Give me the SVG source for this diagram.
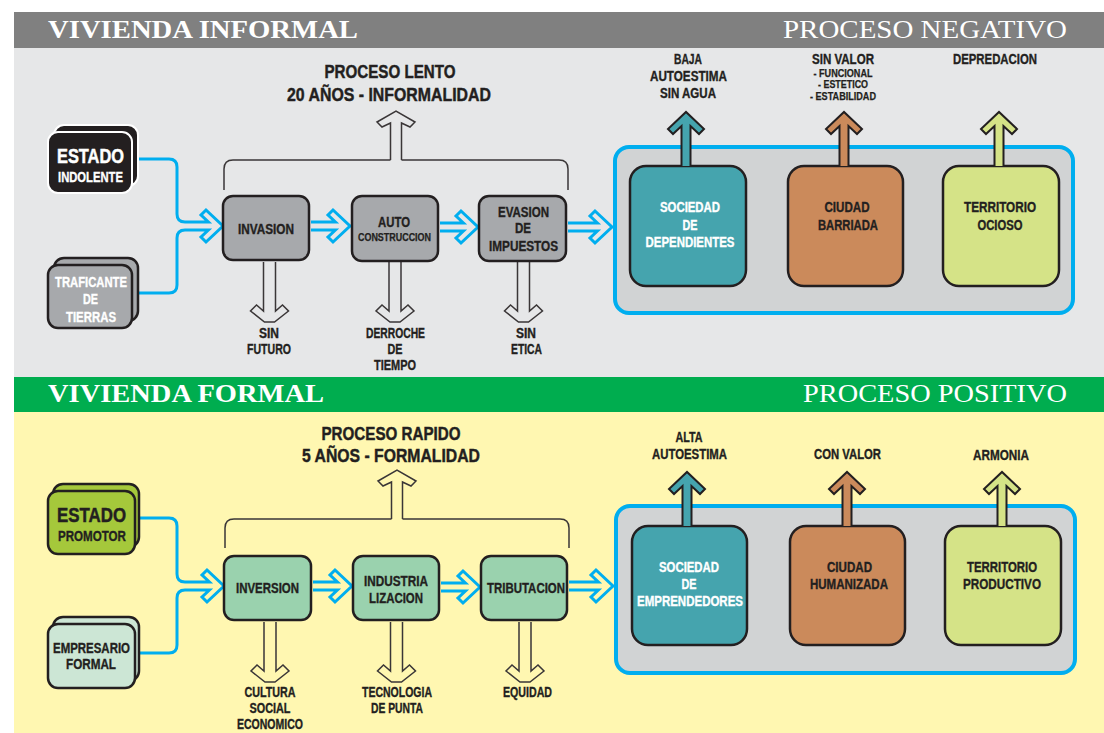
<svg xmlns="http://www.w3.org/2000/svg" width="1104" height="733" viewBox="0 0 1104 733">
  <style>
    .lbl { font-family: "Liberation Sans", Arial, sans-serif; font-weight: bold; fill: #231f20; stroke: #231f20; stroke-width: 0.35; text-anchor: middle; font-size: 14px; }
    .w { fill: #ffffff; stroke: #ffffff; }
    .sm { font-size: 10px; stroke-width: 0.25; }
    .big { font-size: 21px; stroke-width: 0.5; }
    .title { font-size: 19px; stroke-width: 0.45; }
    .head { font-family: "Liberation Serif", "Times New Roman", serif; font-size: 26px; fill: #ffffff; }
    .box { stroke: #231f20; stroke-width: 2.5; }
    .flow { fill: none; stroke: #00aeef; stroke-width: 3; stroke-linejoin: miter; }
    .out { stroke: #3a3637; stroke-width: 1.5; stroke-linejoin: miter; }
    .bracket { fill: none; stroke: #3a3637; stroke-width: 1.5; }
    .grp { fill: #d1d3d4; stroke: #00aeef; stroke-width: 4; }
    .up { stroke: #231f20; stroke-width: 2; stroke-linejoin: miter; }
  </style>

  <!-- page background -->
  <rect x="0" y="0" width="1104" height="733" fill="#ffffff"/>

  <!-- informal band -->
  <rect x="14" y="48" width="1090" height="329" fill="#e6e7e8"/>
  <rect x="14" y="12" width="1090" height="36" fill="#808080"/>
  <text class="head" x="48" y="38" font-weight="bold" textLength="310" lengthAdjust="spacingAndGlyphs">VIVIENDA INFORMAL</text>
  <text class="head" x="1067" y="38" text-anchor="end" textLength="284" lengthAdjust="spacingAndGlyphs">PROCESO NEGATIVO</text>

  <!-- formal band -->
  <rect x="14" y="412" width="1090" height="321" fill="#fff7b1"/>
  <rect x="14" y="377" width="1090" height="35" fill="#00ad4f"/>
  <text class="head" x="48" y="402" font-weight="bold" textLength="276" lengthAdjust="spacingAndGlyphs">VIVIENDA FORMAL</text>
  <text class="head" x="1067" y="402" text-anchor="end" textLength="264" lengthAdjust="spacingAndGlyphs">PROCESO POSITIVO</text>

  <!-- ===== connectors ===== -->
  <g id="connectors">
    <!-- informal: sources into INVASION -->
    <path class="flow" d="M138,159 H169 Q177,159 177,167 V214 Q177,222 185,222 H208.4 L201,215 L206,210 L223,226 L206,242 L201,237 L208.4,230 H185 Q177,230 177,238 V285 Q177,293 169,293 H138"/>
    <path class="flow" d="M311,222 H335.4 L328,215 L333,210 L350,226 L333,242 L328,237 L335.4,230 H311"/>
    <path class="flow" d="M440,223 H463.4 L456,216 L461,211 L478,227 L461,243 L456,238 L463.4,231 H440"/>
    <path class="flow" d="M568,223 H597.4 L590,216 L595,211 L612,227 L595,243 L590,238 L597.4,231 H568"/>

    <!-- informal: outcome arrows -->
    <path class="out" fill="#e6e7e8" d="M263.5,262 V311 L256.5,305 L250.5,311 L264.5,322 H274.5 L288.5,311 L282.5,305 L275.5,311 V262"/>
    <path class="out" fill="#e6e7e8" d="M389,262 V311 L382,305 L376,311 L390,322 H400 L414,311 L408,305 L401,311 V262"/>
    <path class="out" fill="#e6e7e8" d="M517.5,262 V311 L510.5,305 L504.5,311 L518.5,322 H528.5 L542.5,311 L536.5,305 L529.5,311 V262"/>

    <!-- informal: bracket and summary arrow -->
    <path class="bracket" d="M224,190 V169 Q224,160 233,160 H390.5 M401.5,160 H559 Q568,160 568,169 V190"/>
    <path class="out" fill="#e6e7e8" d="M390.5,160 V123 L382,127 L377,122 L396,111 L415,122 L410,127 L401.5,123 V160"/>

    <!-- formal: sources into INVERSION -->
    <path class="flow" d="M139,518 H169 Q177,518 177,526 V574 Q177,582 185,582 H209.4 L202,575 L207,570 L224,586 L207,602 L202,597 L209.4,590 H185 Q177,590 177,598 V645 Q177,653 169,653 H139"/>
    <path class="flow" d="M313,582 H337.4 L330,575 L335,570 L352,586 L335,602 L330,597 L337.4,590 H313"/>
    <path class="flow" d="M441,583 H465.4 L458,576 L463,571 L480,587 L463,603 L458,598 L465.4,591 H441"/>
    <path class="flow" d="M569,582 H598.4 L591,575 L596,570 L613,586 L596,602 L591,597 L598.4,590 H569"/>

    <!-- formal: outcome arrows -->
    <path class="out" fill="#fff7b1" d="M264,622 V671 L257,665 L251,671 L265,682 H275 L289,671 L283,665 L276,671 V622"/>
    <path class="out" fill="#fff7b1" d="M390.5,622 V671 L383.5,665 L377.5,671 L391.5,682 H401.5 L415.5,671 L409.5,665 L402.5,671 V622"/>
    <path class="out" fill="#fff7b1" d="M519,622 V671 L512,665 L506,671 L520,682 H530 L544,671 L538,665 L531,671 V622"/>

    <!-- formal: bracket and summary arrow -->
    <path class="bracket" d="M225,548 V528 Q225,519 234,519 H391.5 M402.5,519 H560 Q569,519 569,528 V548"/>
    <path class="out" fill="#fff7b1" d="M391.5,519 V482 L383,486 L378,481 L397,470 L416,481 L411,486 L402.5,482 V519"/>
  </g>

  <!-- ===== informal nodes ===== -->
  <g id="estado-indolente">
    <rect x="54" y="125" width="84" height="61" rx="10" fill="#231f20" stroke="#ffffff" stroke-width="2"/>
    <rect x="48" y="132" width="84" height="61" rx="10" fill="#231f20" stroke="#ffffff" stroke-width="2"/>
    <text class="lbl w big" x="90.5" y="163" textLength="67" lengthAdjust="spacingAndGlyphs">ESTADO</text>
    <text class="lbl w" x="90.5" y="182" textLength="65" lengthAdjust="spacingAndGlyphs">INDOLENTE</text>
  </g>

  <g id="traficante">
    <rect x="54" y="258" width="84" height="63" rx="10" fill="#a7a9ac" class="box"/>
    <rect x="48" y="265" width="84" height="63" rx="10" fill="#a7a9ac" class="box"/>
    <text class="lbl w" x="91" y="287" textLength="72" lengthAdjust="spacingAndGlyphs">TRAFICANTE</text>
    <text class="lbl w" x="90.5" y="304" textLength="15" lengthAdjust="spacingAndGlyphs">DE</text>
    <text class="lbl w" x="91" y="322" textLength="50" lengthAdjust="spacingAndGlyphs">TIERRAS</text>
  </g>

  <g id="invasion">
    <rect x="223" y="196" width="86" height="64" rx="10" fill="#a7a9ac" class="box"/>
    <text class="lbl" x="266" y="234" textLength="56" lengthAdjust="spacingAndGlyphs">INVASION</text>
  </g>

  <g id="autoconstruccion">
    <rect x="352" y="196" width="86" height="65" rx="10" fill="#a7a9ac" class="box"/>
    <text class="lbl" x="394" y="227" textLength="32" lengthAdjust="spacingAndGlyphs">AUTO</text>
    <text class="lbl sm" x="394.5" y="241" textLength="73" lengthAdjust="spacingAndGlyphs">CONSTRUCCION</text>
  </g>

  <g id="evasion">
    <rect x="479" y="196" width="87" height="65" rx="10" fill="#a7a9ac" class="box"/>
    <text class="lbl" x="523.5" y="217" textLength="51" lengthAdjust="spacingAndGlyphs">EVASION</text>
    <text class="lbl" x="523" y="233" textLength="16" lengthAdjust="spacingAndGlyphs">DE</text>
    <text class="lbl" x="523.5" y="251" textLength="69" lengthAdjust="spacingAndGlyphs">IMPUESTOS</text>
  </g>

  <g id="informal-outcomes">
    <text class="lbl" x="269" y="338" textLength="20" lengthAdjust="spacingAndGlyphs">SIN</text>
    <text class="lbl" x="269" y="354" textLength="44" lengthAdjust="spacingAndGlyphs">FUTURO</text>
    <text class="lbl" x="395.5" y="338" textLength="59" lengthAdjust="spacingAndGlyphs">DERROCHE</text>
    <text class="lbl" x="395" y="354" textLength="15" lengthAdjust="spacingAndGlyphs">DE</text>
    <text class="lbl" x="395" y="370" textLength="42" lengthAdjust="spacingAndGlyphs">TIEMPO</text>
    <text class="lbl" x="526" y="338" textLength="20" lengthAdjust="spacingAndGlyphs">SIN</text>
    <text class="lbl" x="526.5" y="354" textLength="31" lengthAdjust="spacingAndGlyphs">ETICA</text>
  </g>

  <g id="proceso-lento">
    <text class="lbl title" x="390" y="78" textLength="131" lengthAdjust="spacingAndGlyphs">PROCESO LENTO</text>
    <text class="lbl title" x="389" y="101" textLength="204" lengthAdjust="spacingAndGlyphs">20 AÑOS - INFORMALIDAD</text>
  </g>

  <g id="informal-result">
    <rect class="grp" x="615" y="147" width="458" height="166" rx="14"/>

    <g id="sociedad-dependientes">
      <rect x="630" y="166" width="116" height="120" rx="16" fill="#45a4ae" class="box"/>
      <path class="up" fill="#45a4ae" d="M681.5,166 V126 L673,134 L668,129 L686,112 L704,129 L699,134 L690.5,126 V166"/>
      <text class="lbl w" x="690" y="212" textLength="60" lengthAdjust="spacingAndGlyphs">SOCIEDAD</text>
      <text class="lbl w" x="690" y="230" textLength="15" lengthAdjust="spacingAndGlyphs">DE</text>
      <text class="lbl w" x="690" y="247" textLength="89" lengthAdjust="spacingAndGlyphs">DEPENDIENTES</text>
      <text class="lbl" x="688" y="64" textLength="28" lengthAdjust="spacingAndGlyphs">BAJA</text>
      <text class="lbl" x="688.5" y="81" textLength="77" lengthAdjust="spacingAndGlyphs">AUTOESTIMA</text>
      <text class="lbl" x="688" y="98" textLength="56" lengthAdjust="spacingAndGlyphs">SIN AGUA</text>
    </g>

    <g id="ciudad-barriada">
      <rect x="788" y="166" width="115" height="120" rx="16" fill="#cb8a5b" class="box"/>
      <path class="up" fill="#cb8a5b" d="M839.5,166 V126 L831,134 L826,129 L844,112 L862,129 L857,134 L848.5,126 V166"/>
      <text class="lbl" x="847" y="212" textLength="45" lengthAdjust="spacingAndGlyphs">CIUDAD</text>
      <text class="lbl" x="848" y="230" textLength="60" lengthAdjust="spacingAndGlyphs">BARRIADA</text>
      <text class="lbl" x="843" y="64" textLength="62" lengthAdjust="spacingAndGlyphs">SIN VALOR</text>
      <text class="lbl sm" x="843" y="77" textLength="59" lengthAdjust="spacingAndGlyphs">- FUNCIONAL</text>
      <text class="lbl sm" x="843" y="88" textLength="50" lengthAdjust="spacingAndGlyphs">- ESTETICO</text>
      <text class="lbl sm" x="843" y="100" textLength="66" lengthAdjust="spacingAndGlyphs">- ESTABILIDAD</text>
    </g>

    <g id="territorio-ocioso">
      <rect x="943" y="166" width="116" height="120" rx="16" fill="#d5e387" class="box"/>
      <path class="up" fill="#d5e387" d="M994.5,166 V126 L986,134 L981,129 L999,112 L1017,129 L1012,134 L1003.5,126 V166"/>
      <text class="lbl" x="1000" y="212" textLength="72" lengthAdjust="spacingAndGlyphs">TERRITORIO</text>
      <text class="lbl" x="1000" y="230" textLength="45" lengthAdjust="spacingAndGlyphs">OCIOSO</text>
      <text class="lbl" x="995" y="64" textLength="84" lengthAdjust="spacingAndGlyphs">DEPREDACION</text>
    </g>
  </g>

  <!-- ===== formal nodes ===== -->
  <g id="estado-promotor">
    <rect x="53" y="484" width="86" height="63" rx="10" fill="#a5c83b" class="box"/>
    <rect x="48" y="491" width="87" height="63" rx="10" fill="#a5c83b" class="box"/>
    <text class="lbl big" x="91.5" y="522" textLength="69" lengthAdjust="spacingAndGlyphs">ESTADO</text>
    <text class="lbl" x="92" y="541" textLength="68" lengthAdjust="spacingAndGlyphs">PROMOTOR</text>
  </g>

  <g id="empresario-formal">
    <rect x="53" y="617" width="86" height="64" rx="10" fill="#cce6d5" class="box"/>
    <rect x="48" y="624" width="87" height="64" rx="10" fill="#cce6d5" class="box"/>
    <text class="lbl" x="91.5" y="653" textLength="77" lengthAdjust="spacingAndGlyphs">EMPRESARIO</text>
    <text class="lbl" x="91" y="669" textLength="50" lengthAdjust="spacingAndGlyphs">FORMAL</text>
  </g>

  <g id="inversion">
    <rect x="224" y="556" width="87" height="64" rx="10" fill="#9ad2ae" class="box"/>
    <text class="lbl" x="267.5" y="593" textLength="63" lengthAdjust="spacingAndGlyphs">INVERSION</text>
  </g>

  <g id="industrializacion">
    <rect x="353" y="556" width="86" height="64" rx="10" fill="#9ad2ae" class="box"/>
    <text class="lbl" x="396" y="586" textLength="64" lengthAdjust="spacingAndGlyphs">INDUSTRIA</text>
    <text class="lbl" x="396" y="603" textLength="54" lengthAdjust="spacingAndGlyphs">LIZACION</text>
  </g>

  <g id="tributacion">
    <rect x="481" y="556" width="86" height="64" rx="10" fill="#9ad2ae" class="box"/>
    <text class="lbl" x="526" y="593" textLength="78" lengthAdjust="spacingAndGlyphs">TRIBUTACION</text>
  </g>

  <g id="formal-outcomes">
    <text class="lbl" x="270" y="697" textLength="51" lengthAdjust="spacingAndGlyphs">CULTURA</text>
    <text class="lbl" x="270" y="713" textLength="41" lengthAdjust="spacingAndGlyphs">SOCIAL</text>
    <text class="lbl" x="270" y="729" textLength="66" lengthAdjust="spacingAndGlyphs">ECONOMICO</text>
    <text class="lbl" x="397" y="697" textLength="70" lengthAdjust="spacingAndGlyphs">TECNOLOGIA</text>
    <text class="lbl" x="397" y="713" textLength="52" lengthAdjust="spacingAndGlyphs">DE PUNTA</text>
    <text class="lbl" x="527.5" y="697" textLength="49" lengthAdjust="spacingAndGlyphs">EQUIDAD</text>
  </g>

  <g id="proceso-rapido">
    <text class="lbl title" x="391" y="440" textLength="139" lengthAdjust="spacingAndGlyphs">PROCESO RAPIDO</text>
    <text class="lbl title" x="391" y="462" textLength="178" lengthAdjust="spacingAndGlyphs">5 AÑOS - FORMALIDAD</text>
  </g>

  <g id="formal-result">
    <rect class="grp" x="616" y="506" width="459" height="167" rx="14"/>

    <g id="sociedad-emprendedores">
      <rect x="632" y="526" width="115" height="119" rx="16" fill="#45a4ae" class="box"/>
      <path class="up" fill="#45a4ae" d="M682.5,526 V486 L674,494 L669,489 L687,472 L705,489 L700,494 L691.5,486 V526"/>
      <text class="lbl w" x="689" y="572" textLength="60" lengthAdjust="spacingAndGlyphs">SOCIEDAD</text>
      <text class="lbl w" x="689" y="589" textLength="15" lengthAdjust="spacingAndGlyphs">DE</text>
      <text class="lbl w" x="690" y="606" textLength="106" lengthAdjust="spacingAndGlyphs">EMPRENDEDORES</text>
      <text class="lbl" x="689" y="442" textLength="27" lengthAdjust="spacingAndGlyphs">ALTA</text>
      <text class="lbl" x="689.5" y="459" textLength="75" lengthAdjust="spacingAndGlyphs">AUTOESTIMA</text>
    </g>

    <g id="ciudad-humanizada">
      <rect x="790" y="526" width="115" height="119" rx="16" fill="#cb8a5b" class="box"/>
      <path class="up" fill="#cb8a5b" d="M842.5,526 V486 L834,494 L829,489 L847,472 L865,489 L860,494 L851.5,486 V526"/>
      <text class="lbl" x="849.5" y="572" textLength="45" lengthAdjust="spacingAndGlyphs">CIUDAD</text>
      <text class="lbl" x="849" y="589" textLength="78" lengthAdjust="spacingAndGlyphs">HUMANIZADA</text>
      <text class="lbl" x="847.5" y="459" textLength="67" lengthAdjust="spacingAndGlyphs">CON VALOR</text>
    </g>

    <g id="territorio-productivo">
      <rect x="945" y="526" width="116" height="119" rx="16" fill="#d5e387" class="box"/>
      <path class="up" fill="#d5e387" d="M997.5,526 V486 L989,494 L984,489 L1002,472 L1020,489 L1015,494 L1006.5,486 V526"/>
      <text class="lbl" x="1002" y="572" textLength="70" lengthAdjust="spacingAndGlyphs">TERRITORIO</text>
      <text class="lbl" x="1002" y="589" textLength="78" lengthAdjust="spacingAndGlyphs">PRODUCTIVO</text>
      <text class="lbl" x="1001" y="460" textLength="56" lengthAdjust="spacingAndGlyphs">ARMONIA</text>
    </g>
  </g>
</svg>
